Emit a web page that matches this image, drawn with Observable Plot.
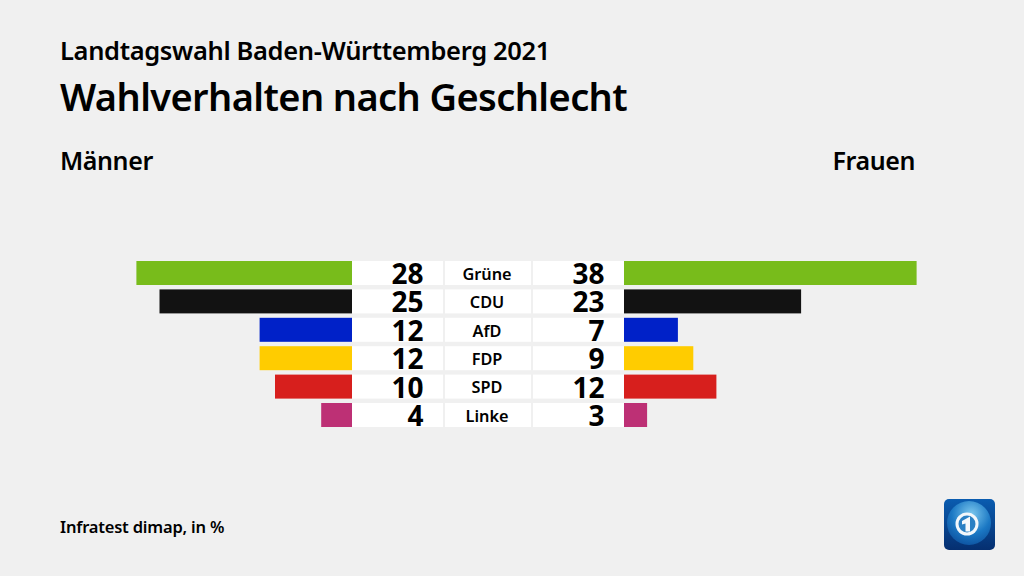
<!DOCTYPE html>
<html lang="de">
<head>
<meta charset="utf-8">
<script src="https://cdn.jsdelivr.net/npm/d3@7"></script>
<script src="https://cdn.jsdelivr.net/npm/@observablehq/plot@0.6"></script>
<style>
html,body{margin:0;padding:0;background:#f0f0f0;width:1024px;height:576px;overflow:hidden}
body{position:relative;font-family:"Noto Sans",sans-serif;color:#000}
.t{position:absolute;white-space:nowrap;line-height:1;margin:0}
#chart{position:absolute;left:0;top:0}
#chart svg{background:transparent;display:block}
</style>
</head>
<body>
<div id="chart"></div>
<div class="t" style="left:60px;top:38px;font-size:25.5px;font-weight:600;letter-spacing:-.35px">Landtagswahl Baden-Württemberg 2021</div>
<div class="t" style="left:60px;top:77px;font-size:38px;font-weight:600;letter-spacing:-.6px">Wahlverhalten nach Geschlecht</div>
<div class="t" style="left:60px;top:148px;font-size:25px;font-weight:600;letter-spacing:-.4px">Männer</div>
<div class="t" style="right:109px;top:148px;font-size:25px;font-weight:600;letter-spacing:-.4px">Frauen</div>
<div class="t" style="left:60px;top:519px;font-size:16.5px;font-weight:600;letter-spacing:-.2px">Infratest dimap, in %</div>
<svg style="position:absolute;left:944px;top:499px" width="51" height="51" viewBox="0 0 51 51" role="img" aria-label="Das Erste">
  <defs>
    <linearGradient id="bg" x1="0" y1="0" x2="0" y2="1"><stop offset="0" stop-color="#0a5cb0"/><stop offset="1" stop-color="#052f70"/></linearGradient>
    <radialGradient id="gl" cx=".55" cy=".3" r=".8"><stop offset="0" stop-color="#7cc8ee"/><stop offset=".55" stop-color="#1b78c4"/><stop offset="1" stop-color="#0a4a98"/></radialGradient>
  </defs>
  <rect width="51" height="51" rx="5" fill="url(#bg)"/>
  <circle cx="25" cy="24" r="22" fill="url(#gl)"/>
  <circle cx="23" cy="25" r="11.5" fill="#f2f7fb"/>
  <circle cx="23" cy="25" r="8.5" fill="#2a80c4"/>
  <path d="M18 22l8-4.500v15h-4.500v-8l-3.500 1z" fill="#f5f9fc"/>
</svg>
<script>
const parties = ["Grüne", "CDU", "AfD", "FDP", "SPD", "Linke"];
const maenner = [28, 25, 12, 12, 10, 4];
const frauen = [38, 23, 7, 9, 12, 3];
const colors = ["#78bc1b", "#121212", "#0021c8", "#ffcc00", "#d71f1d", "#bd3075"];

const pxPerUnit = 7.7;
const gap = 136 / pxPerUnit;        // half width of the middle block
const cellGap = 1 / pxPerUnit;
const cellMid = 44 / pxPerUnit;     // half width of the party-name cell
const numInset = 20 / pxPerUnit;    // gap from the bar to the number's right edge

const rows = parties.map((party, i) => ({party, m: maenner[i], f: frauen[i], color: colors[i]}));

const plot = Plot.plot({
  width: 1024,
  height: 576,
  marginTop: 261,
  marginBottom: 149,
  marginLeft: 0,
  marginRight: 0,
  style: {background: "transparent"},
  x: {domain: [-488 / pxPerUnit, 536 / pxPerUnit], axis: null},
  y: {domain: parties, axis: null, paddingInner: 0.155, paddingOuter: 0, round: false},
  color: {type: "identity"},
  marks: [
    Plot.barX(rows, {y: "party", x1: -gap, x2: -cellMid - cellGap, fill: "#fff"}),
    Plot.barX(rows, {y: "party", x1: -cellMid + cellGap, x2: cellMid - cellGap, fill: "#fff"}),
    Plot.barX(rows, {y: "party", x1: cellMid + cellGap, x2: gap, fill: "#fff"}),
    Plot.barX(rows, {y: "party", x1: d => -gap, x2: d => -gap - d.m, fill: "color"}),
    Plot.barX(rows, {y: "party", x1: d => gap, x2: d => gap + d.f, fill: "color"}),
    Plot.text(rows, {y: "party", x: -gap + (91 - 20) / pxPerUnit, text: "m", textAnchor: "end", fontSize: 28, fontWeight: 700, fontFamily: "Noto Sans", fill: "#000", dy: 1.5}),
    Plot.text(rows, {y: "party", x: gap - numInset, text: "f", textAnchor: "end", fontSize: 28, fontWeight: 700, fontFamily: "Noto Sans", fill: "#000", dy: 1.5}),
    Plot.text(rows, {y: "party", x: 0, text: "party", textAnchor: "middle", fontSize: 16.3, fontWeight: 600, fontFamily: "Noto Sans", fill: "#000", dx: -1.5, dy: 1})
  ]
});
document.getElementById("chart").appendChild(plot);
</script>
</body>
</html>
